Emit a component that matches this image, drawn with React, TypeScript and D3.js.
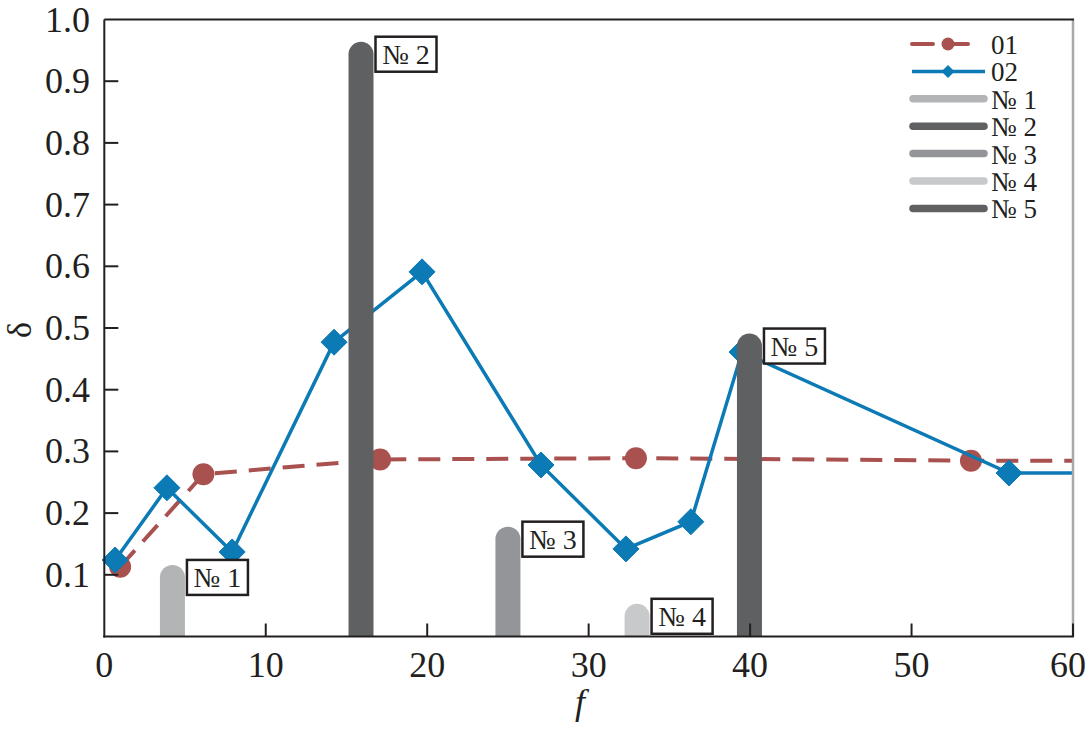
import React from "react";
import * as d3 from "d3";

const xTicks = [0, 10, 20, 30, 40, 50, 60];
const yTicks = [0.1, 0.2, 0.3, 0.4, 0.5, 0.6, 0.7, 0.8, 0.9, 1.0];

const s01X = [0.98, 6.14, 17.08, 32.93, 53.68];
const s01Y = [0.113, 0.263, 0.287, 0.289, 0.285];

const s02X = [0.67, 3.88, 7.92, 14.23, 19.68, 27.05, 32.31, 36.33, 39.5, 56.04];
const s02Y = [0.124, 0.241, 0.137, 0.477, 0.591, 0.278, 0.142, 0.186, 0.461, 0.265];

const barNames = ["№ 1", "№ 2", "№ 3", "№ 4", "№ 5"];
const barX = [4.22, 15.9, 25.0, 33.0, 39.96];
const barY = [0.116, 0.964, 0.178, 0.053, 0.491];
const barColors = ["#b3b4b6", "#5f6062", "#939598", "#c8c9cb", "#5f6062"];

const RED = "#a8514f";
const BLUE = "#0b7ab5";
const INK = "#231f20";
const FONT = "'Liberation Serif', 'Times New Roman', Times, serif";

export default function App() {
  const W = 1089, H = 730;
  const x = d3.scaleLinear().domain([0, 60]).range([104.3, 1073]);
  const y = d3.scaleLinear().domain([0, 1]).range([636.5, 19.5]);
  const [x0, x1] = x.range();
  const [y0, y1] = y.range();

  const s01 = s01X.map((v, i) => [v, s01Y[i]] as [number, number]);
  const s01Line = [...s01, [60, s01Y[s01Y.length - 1]] as [number, number]];
  const s02 = s02X.map((v, i) => [v, s02Y[i]] as [number, number]);
  const s02Line = [...s02, [60, s02Y[s02Y.length - 1]] as [number, number]];
  const line = d3.line<[number, number]>().x((d) => x(d[0])).y((d) => y(d[1]));

  const bw = 25;
  const barPath = (xv: number, yv: number) => {
    const cx = x(xv), top = y(yv), r = bw / 2;
    return `M${cx - r},${y0} L${cx - r},${top + r} A${r},${r} 0 0 1 ${cx + r},${top + r} L${cx + r},${y0} Z`;
  };
  const diamond = (cx: number, cy: number, s: number) =>
    `M${cx},${cy - s} L${cx + s},${cy} L${cx},${cy + s} L${cx - s},${cy} Z`;

  const legendRows = [
    { type: "s01", label: "01" },
    { type: "s02", label: "02" },
    ...barNames.map((n, i) => ({ type: "bar", label: n, color: barColors[i] })),
  ];

  const ts = { fontFamily: FONT } as React.CSSProperties;

  return (
    <svg width={W} height={H} style={{ position: "absolute", left: 0, top: 0, background: "#fff", fontFamily: FONT }}>
      <rect width={W} height={H} fill="#fff" />
      {/* series 01 */}
      <path d={line(s01Line) || ""} fill="none" stroke={RED} strokeWidth={4} strokeDasharray="22,12" />
      {s01.map((d, i) => (
        <circle key={"c" + i} cx={x(d[0])} cy={y(d[1])} r={11} fill={RED} />
      ))}
      {/* series 02 */}
      <path d={line(s02Line) || ""} fill="none" stroke={BLUE} strokeWidth={3.5} />
      {s02.map((d, i) => (
        <path key={"d" + i} d={diamond(x(d[0]), y(d[1]), 13)} fill={BLUE} stroke={BLUE} strokeWidth={1} strokeLinejoin="round" />
      ))}
      {/* bars */}
      {barX.map((v, i) => (
        <path key={"b" + i} d={barPath(v, barY[i])} fill={barColors[i]} />
      ))}
      {/* frame */}
      <line x1={x1} x2={x1} y1={y1} y2={y0} stroke="#a7a9ac" strokeWidth={2.5} />
      <line x1={x0} x2={x1 + 1} y1={y1} y2={y1} stroke={INK} strokeWidth={2} />
      <line x1={x0} x2={x0} y1={y1} y2={y0 + 1} stroke={INK} strokeWidth={2} />
      <line x1={x0 - 1} x2={x1 + 1} y1={y0} y2={y0} stroke={INK} strokeWidth={2} />
      {xTicks.map((t) => (
        <g key={"xt" + t}>
          {t > 0 && <line x1={x(t)} x2={x(t)} y1={y0} y2={y0 - 13} stroke={INK} strokeWidth={2} />}
          <text style={ts} x={Math.min(x(t), W - 21)} y={y0 + 40} fontSize={36} textAnchor="middle" fill={INK}>{t}</text>
        </g>
      ))}
      {yTicks.map((t) => (
        <g key={"yt" + t}>
          {t < 1 && <line x1={x0} x2={x0 + 14} y1={y(t)} y2={y(t)} stroke={INK} strokeWidth={2} />}
          <text style={ts} x={90} y={y(t) + 12} fontSize={36} textAnchor="end" fill={INK}>{t.toFixed(1)}</text>
        </g>
      ))}
      {/* axis titles */}
      <text style={ts} x={580} y={714} fontSize={36} fontStyle="italic" textAnchor="middle" fill={INK}>f</text>
      <text style={ts} transform="translate(31,330) rotate(-90)" fontSize={34} textAnchor="middle" fill={INK}>δ</text>
      {/* bar labels */}
      {barX.map((v, i) => {
        const bx = x(v) + bw / 2 + 2;
        const by = y(barY[i]) - 5;
        return (
          <g key={"l" + i}>
            <rect x={bx} y={by} width={61} height={35} fill="#fff" stroke={INK} strokeWidth={2.5} />
            <text style={ts} x={bx + 30.5} y={by + 27} fontSize={28} textAnchor="middle" fill={INK}>{barNames[i]}</text>
          </g>
        );
      })}
      {/* legend */}
      {legendRows.map((r, i) => {
        const ly = 44 + i * 27.4;
        return (
          <g key={"lg" + i}>
            {r.type === "s01" && (
              <g>
                <line x1={912} x2={972} y1={ly} y2={ly} stroke={RED} strokeWidth={4} strokeDasharray="21,14" strokeLinecap="round" />
                <circle cx={948} cy={ly} r={6.5} fill={RED} />
              </g>
            )}
            {r.type === "s02" && (
              <g>
                <line x1={912} x2={985} y1={ly} y2={ly} stroke={BLUE} strokeWidth={3.5} />
                <path d={diamond(948, ly, 6.5)} fill={BLUE} />
              </g>
            )}
            {r.type === "bar" && (
              <line x1={913} x2={984} y1={ly} y2={ly} stroke={(r as any).color} strokeWidth={7.5} strokeLinecap="round" />
            )}
            <text style={ts} x={991} y={ly + 10} fontSize={27} fill={INK}>{r.label}</text>
          </g>
        );
      })}
    </svg>
  );
}
